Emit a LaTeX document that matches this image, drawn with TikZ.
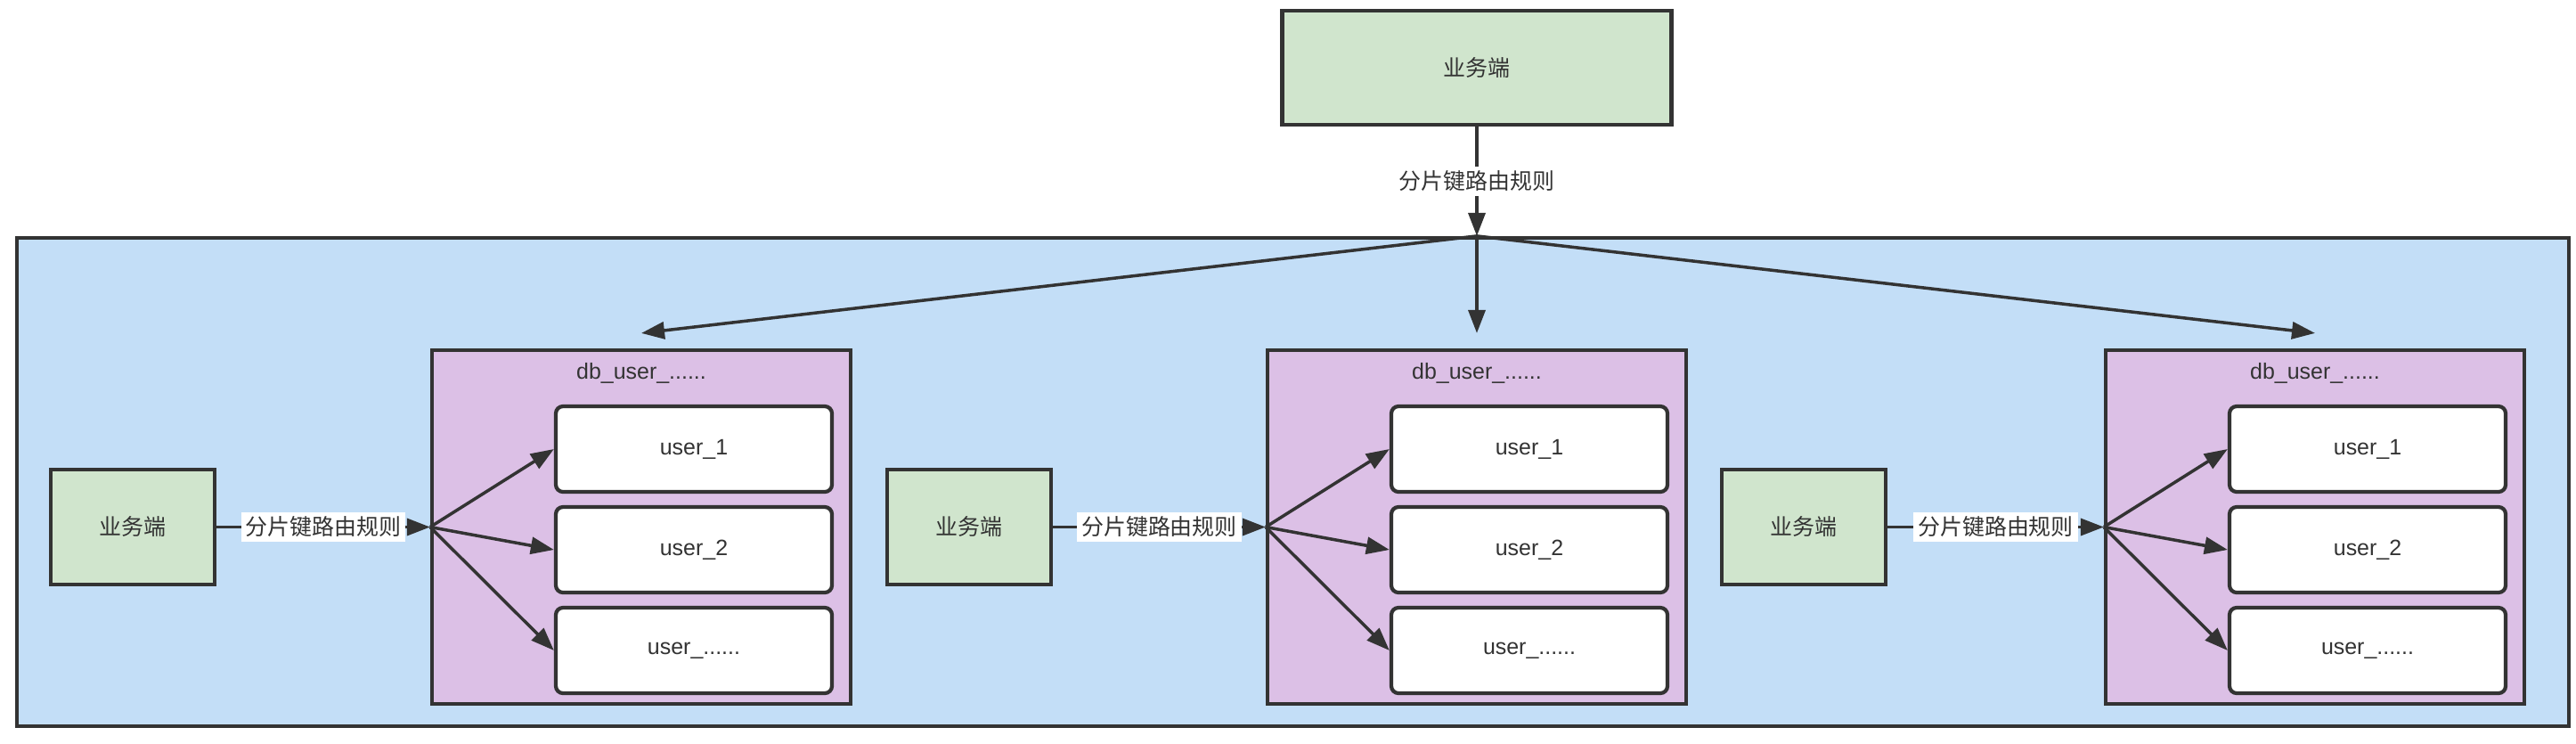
\documentclass[tikz,border=0pt]{standalone}
\usepackage{fontspec}
\setmainfont{Liberation Sans}
\newfontfamily\cjk{Noto Sans CJK SC}
\usetikzlibrary{arrows.meta}
\definecolor{linegray}{HTML}{333333}
\definecolor{clientgreen}{HTML}{D0E5CD}
\definecolor{clusterblue}{HTML}{C3DEF7}
\definecolor{dbpurple}{HTML}{DCC0E6}

\begin{document}
\begin{tikzpicture}[font=\fontsize{7.1}{8.5}\selectfont, text=linegray,
  client/.style={draw=linegray, line width=1.2pt, fill=clientgreen, minimum width=1.84cm, minimum height=1.29cm},
  dbbox/.style={draw=linegray, line width=1.2pt, fill=dbpurple, minimum width=4.70cm, minimum height=3.97cm},
  tablebox/.style={draw=linegray, line width=1.2pt, fill=white, rounded corners=0.8mm, minimum width=3.10cm, minimum height=0.96cm},
  conn/.style={draw=linegray, line width=1pt, -{Triangle[length=0.26cm,width=0.19cm]}},
  rule/.style={fill=white, inner sep=0.5mm, font=\fontsize{7.1}{8.5}\selectfont\cjk}]
				% Frame and outer area:
				\useasboundingbox (0, 0) rectangle (28.92, -8.34);
				\node[draw=linegray, line width=1.2pt, fill=clusterblue, minimum width=28.65cm, minimum height=5.48cm](cluster) at (14.515, -5.41){};
				\node[client, minimum width=4.37cm, minimum height=1.28cm, font=\fontsize{7.1}{8.5}\selectfont\cjk](top) at (16.58, -0.76){业务端};
				\coordinate (hub) at (top |- cluster.north);
				\draw[conn] (top) -- node[rule]{分片键路由规则} (hub);
				% Group 1:
				\node[client, font=\fontsize{7.1}{8.5}\selectfont\cjk](c1) at (1.49, -5.915){业务端};
				\node[dbbox](db1) at (7.20, -5.915){};
				\node at (7.20, -4.19){db\_user\_......};
				\node[tablebox](t11) at (7.79, -5.04){user\_1};
				\node[tablebox](t12) at (7.79, -6.17){user\_2};
				\node[tablebox](t13) at (7.79, -7.30){user\_......};
				% Group 2:
				\node[client, font=\fontsize{7.1}{8.5}\selectfont\cjk](c2) at (10.88, -5.915){业务端};
				\node[dbbox](db2) at (16.58, -5.915){};
				\node at (16.58, -4.19){db\_user\_......};
				\node[tablebox](t21) at (17.17, -5.04){user\_1};
				\node[tablebox](t22) at (17.17, -6.17){user\_2};
				\node[tablebox](t23) at (17.17, -7.30){user\_......};
				% Group 3:
				\node[client, font=\fontsize{7.1}{8.5}\selectfont\cjk](c3) at (20.25, -5.915){业务端};
				\node[dbbox](db3) at (25.99, -5.915){};
				\node at (25.99, -4.19){db\_user\_......};
				\node[tablebox](t31) at (26.58, -5.04){user\_1};
				\node[tablebox](t32) at (26.58, -6.17){user\_2};
				\node[tablebox](t33) at (26.58, -7.30){user\_......};
				% Connectors:
				\draw[conn] (hub) -- ([yshift=1.7mm]db1.north);
				\draw[conn] (hub) -- ([yshift=1.7mm]db2.north);
				\draw[conn] (hub) -- ([yshift=1.7mm]db3.north);
				\draw[conn] (c1) -- node[rule]{分片键路由规则} (db1);
				\draw[conn] (c2) -- node[rule]{分片键路由规则} (db2);
				\draw[conn] (c3) -- node[rule]{分片键路由规则} (db3);
				\draw[conn] (db1.west) -- (t11.west);
				\draw[conn] (db1.west) -- (t12.west);
				\draw[conn] (db1.west) -- (t13.west);
				\draw[conn] (db2.west) -- (t21.west);
				\draw[conn] (db2.west) -- (t22.west);
				\draw[conn] (db2.west) -- (t23.west);
				\draw[conn] (db3.west) -- (t31.west);
				\draw[conn] (db3.west) -- (t32.west);
				\draw[conn] (db3.west) -- (t33.west);
\end{tikzpicture}
\end{document}
